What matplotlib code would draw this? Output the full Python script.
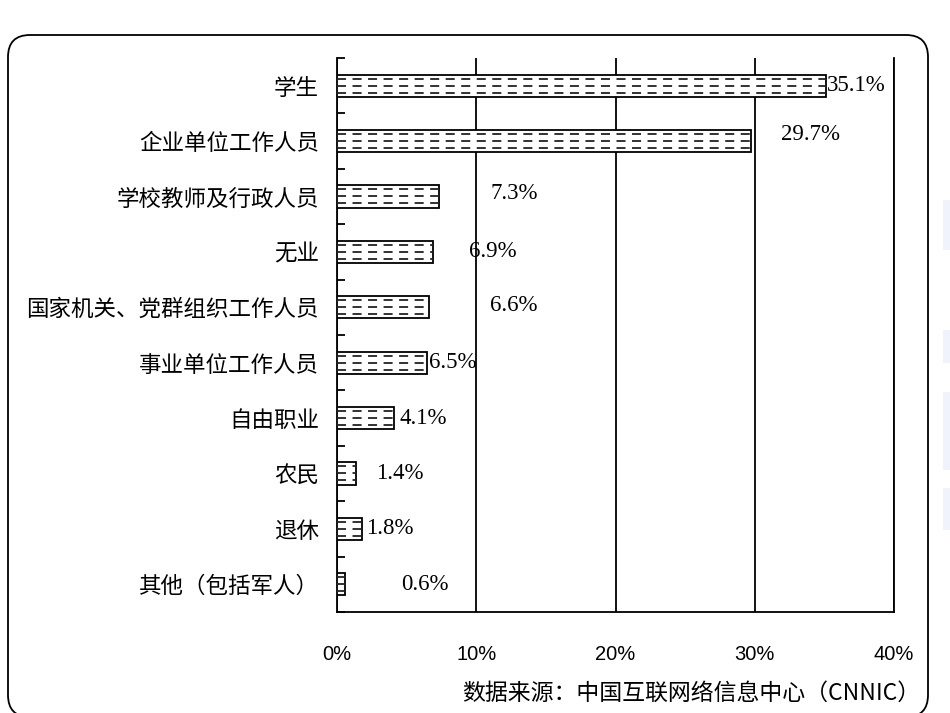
# libraries
import matplotlib
matplotlib.use("Agg")
import matplotlib.pyplot as plt
from matplotlib.patches import FancyBboxPatch, Rectangle
from matplotlib.ticker import FixedLocator, PercentFormatter

# data
categories = ["学生", "企业单位工作人员", "学校教师及行政人员", "无业",
              "国家机关、党群组织工作人员", "事业单位工作人员", "自由职业",
              "农民", "退休", "其他（包括军人）"]
shares = [35.1, 29.7, 7.3, 6.9, 6.6, 6.5, 4.1, 1.4, 1.8, 0.6]
x_ticks = [0, 10, 20, 30, 40]
source = "数据来源：中国互联网络信息中心（CNNIC）"

# label offsets in points (dx, dy) - the original places them rather loosely
label_offsets = [(1, 0), (22, 5), (37, 2), (26, 0), (44, 1),
                 (1, 0), (4, 0), (14, 0), (3, 0), (40, 0)]

cjk = ["Noto Sans CJK SC", "DejaVu Sans"]

fig = plt.figure(figsize=(9.5, 7.13), dpi=100)
ax = fig.add_axes([0.3547, 0.1417, 0.9411 - 0.3547, 0.9187 - 0.1417])

ypos = list(range(len(categories)))
bar_h = 0.4
ax.barh(ypos, shares, height=bar_h, color="white", edgecolor="black",
        linewidth=1.3, zorder=3)

# dashed fill inside bars
for y, v in zip(ypos, shares):
    for dy in (-0.126, 0.0, 0.126):
        ax.hlines(y + dy, 0, v, colors="#222222", linewidth=1.3,
                  linestyles=(0, (5, 3.6)), zorder=4)

for y, v, (dx, dy) in zip(ypos, shares, label_offsets):
    ax.annotate(f"{v}%", (v, y), xytext=(dx, dy), textcoords="offset points",
                ha="left", va="center", fontsize=16.5,
                family="Liberation Serif", zorder=5)

ax.set_xlim(0, 40)
ax.set_ylim(len(categories) - 0.5, -0.5)
ax.xaxis.set_major_locator(FixedLocator(x_ticks))
ax.xaxis.set_major_formatter(PercentFormatter(decimals=0))
ax.grid(axis="x", color="black", linewidth=1.3, zorder=1)
ax.tick_params(axis="x", length=0, pad=24, labelsize=14.5)
for t in ax.get_xticklabels():
    t.set_family("Liberation Sans")

ax.set_yticks(ypos)
ax.set_yticklabels(categories, family=cjk, fontsize=16.2)
ax.yaxis.set_minor_locator(FixedLocator([i - 0.5 for i in range(len(categories) + 1)]))
ax.tick_params(axis="y", which="major", length=0, pad=13)
ax.tick_params(axis="y", which="minor", direction="in", length=5.5, width=1.3)

ax.spines["top"].set_visible(False)
for s in ("left", "bottom", "right"):
    ax.spines[s].set_linewidth(1.3)

# rounded frame
frame = FancyBboxPatch((0.08, -0.04), 9.2, 6.82,
                       boxstyle="round,pad=0,rounding_size=0.22",
                       transform=fig.dpi_scale_trans, facecolor="none",
                       edgecolor="black", linewidth=1.3)
fig.patches.append(frame)

# faint marks at the right edge of the screenshot
for y0, y1 in [(200, 250), (330, 363), (392, 470), (488, 530)]:
    fig.patches.append(Rectangle((943 / 950, 1 - y1 / 713), 7 / 950, (y1 - y0) / 713,
                                 transform=fig.transFigure, facecolor="#f0f3fb",
                                 edgecolor="none"))

fig.text(920 / 950, 1 - 693 / 713, source, ha="right", va="center",
         family=cjk, fontsize=16.5)

fig.savefig("out.png", dpi=100)
